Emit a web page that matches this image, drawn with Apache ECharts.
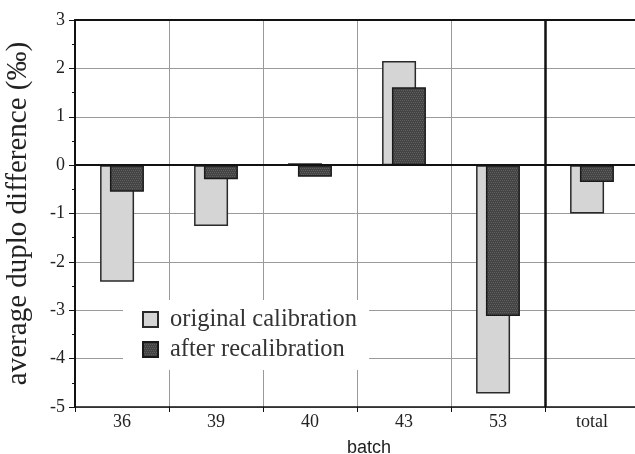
<!DOCTYPE html>
<html>
<head>
<meta charset="utf-8">
<script src="https://cdn.jsdelivr.net/npm/echarts@6/dist/echarts.min.js"></script>
<style>
  html, body { margin: 0; padding: 0; background: #fff; }
  #chart { width: 635px; height: 454px; }
</style>
</head>
<body>
<div id="chart"></div>
<script>
// Batches and average duplo differences (per mille)
const batches = ['36', '39', '40', '43', '53', 'total'];
const originalCalibration = [-2.41, -1.26, 0.04, 2.15, -4.72, -1.0];
const afterRecalibration = [-0.55, -0.29, -0.24, 1.61, -3.12, -0.35];
const yTicks = { min: -5, max: 3, step: 1 };

const SERIF = '"Liberation Serif", "DejaVu Serif", serif';
const SANS = '"Liberation Sans", "DejaVu Sans", sans-serif';

// Small tiled textures for the bar fills
function makeChecker(base, dot, size) {
  const c = document.createElement('canvas');
  c.width = size; c.height = size;
  const g = c.getContext('2d');
  g.fillStyle = base;
  g.fillRect(0, 0, size, size);
  g.fillStyle = dot;
  for (let y = 0; y < size; y += 2) {
    for (let x = 0; x < size; x += 2) {
      g.fillRect(x + ((y / 2) % 2), y, 1, 1);
    }
  }
  return { image: c, repeat: 'repeat' };
}
const darkFill = makeChecker('#444444', '#606060', 4);
const lightFill = '#d5d5d5';

const chart = echarts.init(document.getElementById('chart'), null, { renderer: 'canvas' });

chart.setOption({
  animation: false,
  backgroundColor: '#fff',
  grid: { left: 75, right: -4, top: 20, bottom: 47, containLabel: false, outerBoundsMode: 'none' },
  legend: {
    orient: 'vertical',
    left: 123,
    top: 300,
    backgroundColor: '#fff',
    padding: [7, 12, 8, 19],
    itemWidth: 15,
    itemHeight: 15,
    itemGap: 5,
    icon: 'rect',
    textStyle: { fontFamily: SERIF, fontSize: 24.5, color: '#333', padding: [0, 0, 0, 7], lineHeight: 24 },
    data: ['original calibration', 'after recalibration']
  },
  xAxis: [
    {
      type: 'category',
      data: batches,
      boundaryGap: true,
      position: 'bottom',
      name: 'batch',
      nameLocation: 'middle',
      nameGap: 32,
      nameTextStyle: { fontFamily: SANS, fontSize: 18, color: '#222', padding: [0, 0, 0, 24] },
      axisLine: { onZero: false, lineStyle: { color: '#111', width: 1.5 } },
      axisTick: { show: true, length: 5, lineStyle: { color: '#111', width: 1 } },
      axisLabel: { fontFamily: SERIF, fontSize: 18, color: '#222', margin: 6 },
      splitLine: { show: true, lineStyle: { color: '#9a9a9a', width: 1 } }
    },
    {
      // frame along the top and the separator before the total column
      type: 'value',
      min: 0,
      max: batches.length,
      position: 'top',
      axisLine: { show: true, onZero: false, lineStyle: { color: '#111', width: 2 } },
      axisTick: { show: false },
      axisLabel: { show: false },
      splitLine: { show: false }
    }
  ],
  yAxis: {
    type: 'value',
    min: yTicks.min,
    max: yTicks.max,
    interval: yTicks.step,
    name: 'average duplo difference (‰)',
    nameLocation: 'middle',
    nameGap: 42,
    nameTextStyle: { fontFamily: SERIF, fontSize: 29, color: '#222' },
    axisLine: { show: true, lineStyle: { color: '#111', width: 2 } },
    axisTick: { show: true, length: 6, lineStyle: { color: '#111', width: 1 } },
    minorTick: { show: true, splitNumber: 2, length: 3, lineStyle: { color: '#111', width: 1 } },
    axisLabel: { fontFamily: SERIF, fontSize: 18, color: '#222', margin: 10 },
    splitLine: { show: true, lineStyle: { color: '#9a9a9a', width: 1 } }
  },
  series: [
    {
      name: 'original calibration',
      type: 'bar',
      data: originalCalibration,
      barWidth: 34,
      barGap: '-71%',
      itemStyle: { color: lightFill, borderColor: '#2a2a2a', borderWidth: 1.5 },
      markLine: {
        silent: true,
        symbol: 'none',
        label: { show: false },
        lineStyle: { color: '#111', width: 2, type: 'solid' },
        data: [{ yAxis: 0 }]
      }
    },
    {
      name: 'after recalibration',
      type: 'bar',
      data: afterRecalibration,
      barWidth: 34,
      barGap: '-71%',
      itemStyle: { color: darkFill, borderColor: '#1a1a1a', borderWidth: 1.5 }
    },
    {
      // carries the separator line on the top value axis
      type: 'line',
      xAxisIndex: 1,
      data: [],
      markLine: {
        silent: true,
        symbol: 'none',
        label: { show: false },
        lineStyle: { color: '#111', width: 2.5, type: 'solid' },
        data: [{ xAxis: batches.length - 1 }]
      }
    }
  ]
});
</script>
</body>
</html>
